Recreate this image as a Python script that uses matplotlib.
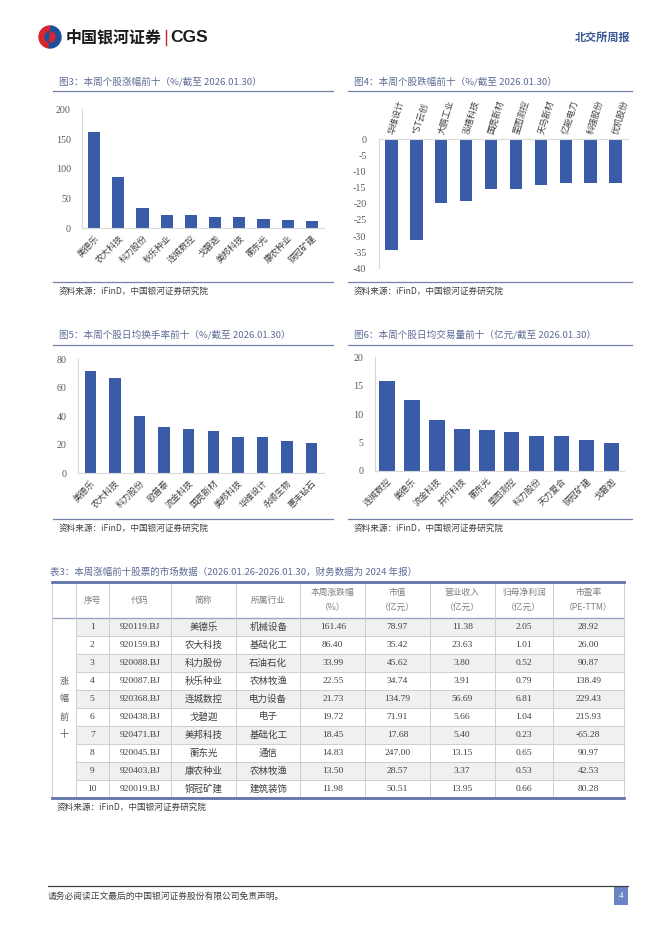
import matplotlib
matplotlib.use("Agg")
import matplotlib.pyplot as plt
from matplotlib.patches import Rectangle, Wedge
import numpy as np

plt.rcParams['font.family'] = ['Noto Sans CJK SC', 'DejaVu Sans']
plt.rcParams['axes.unicode_minus'] = False

# ---------------- data ----------------
cats3 = ['美德乐', '农大科技', '科力股份', '秋乐种业', '连城数控', '戈碧迦', '美邦科技', '蘅东光', '康农种业', '铜冠矿建']
vals3 = [161.46, 86.40, 33.99, 22.55, 21.73, 19.72, 18.45, 14.83, 13.50, 11.98]

cats4 = ['华维设计', '*ST云创', '大鹏工业', '泓禧科技', '国亮新材', '星图测控', '天马新材', '亿能电力', '科强股份', '优机股份']
vals4 = [-34.4, -31.3, -19.8, -19.1, -15.4, -15.4, -14.3, -13.6, -13.6, -13.6]

cats5 = ['美德乐', '农大科技', '科力股份', '欧普泰', '流金科技', '国亮新材', '美邦科技', '华维设计', '永顺生物', '惠丰钻石']
vals5 = [71.8, 66.7, 40.0, 32.3, 30.9, 29.5, 25.3, 25.3, 22.5, 21.1]

cats6 = ['连城数控', '美德乐', '流金科技', '并行科技', '蘅东光', '星图测控', '科力股份', '天力复合', '铜冠矿建', '戈碧迦']
vals6 = [15.9, 12.5, 8.9, 7.35, 7.2, 6.9, 6.2, 6.1, 5.4, 4.8]

tbl_idx = ['1', '2', '3', '4', '5', '6', '7', '8', '9', '10']
tbl_code = ['920119.BJ', '920159.BJ', '920088.BJ', '920087.BJ', '920368.BJ', '920438.BJ', '920471.BJ', '920045.BJ', '920403.BJ', '920019.BJ']
tbl_name = ['美德乐', '农大科技', '科力股份', '秋乐种业', '连城数控', '戈碧迦', '美邦科技', '蘅东光', '康农种业', '铜冠矿建']
tbl_ind = ['机械设备', '基础化工', '石油石化', '农林牧渔', '电力设备', '电子', '基础化工', '通信', '农林牧渔', '建筑装饰']
tbl_chg = ['161.46', '86.40', '33.99', '22.55', '21.73', '19.72', '18.45', '14.83', '13.50', '11.98']
tbl_cap = ['78.97', '35.42', '45.62', '34.74', '134.79', '71.91', '17.68', '247.00', '28.57', '50.51']
tbl_rev = ['11.38', '23.63', '3.80', '3.91', '56.69', '5.66', '5.40', '13.15', '3.37', '13.95']
tbl_np = ['2.05', '1.01', '0.52', '0.79', '6.81', '1.04', '0.23', '0.65', '0.53', '0.66']
tbl_pe = ['28.92', '26.00', '90.87', '138.49', '229.43', '215.93', '-65.28', '90.97', '42.53', '80.28']
tbl_head = ['序号', '代码', '简称', '所属行业', '本周涨跌幅\n（%）', '市值\n（亿元）', '营业收入\n（亿元）', '归母净利润\n（亿元）', '市盈率\n（PE-TTM）']

# ---------------- styling ----------------
W, H = 662, 936
BAR = '#3a5ca8'
TITLE_C = '#5d6b96'
LINE_C = '#7581aa'
AX_C = '#d9d9d9'
TICK_C = '#595959'
SERIF = 'Liberation Serif'

fig = plt.figure(figsize=(W / 100, H / 100), dpi=100)
fig.patch.set_facecolor('white')

ov = fig.add_axes([0, 0, 1, 1])
ov.set_xlim(0, W)
ov.set_ylim(H, 0)
ov.axis('off')


def px_axes(x0, x1, ytop, ybot):
    return fig.add_axes([x0 / W, 1 - ybot / H, (x1 - x0) / W, (ybot - ytop) / H])


def style_ax(ax, top=False):
    for s in ax.spines.values():
        s.set_visible(False)
    ax.spines['left'].set_visible(True)
    ax.spines['left'].set_color(AX_C)
    ax.spines['left'].set_linewidth(0.8)
    key = 'top' if top else 'bottom'
    ax.spines[key].set_visible(True)
    ax.spines[key].set_color(AX_C)
    ax.spines[key].set_linewidth(0.8)
    ax.spines[key].set_zorder(5)
    ax.tick_params(length=0)
    ax.patch.set_alpha(0)
    for lab in ax.get_yticklabels():
        lab.set_fontfamily(SERIF)
        lab.set_fontsize(7.2)
        lab.set_color(TICK_C)


def block(x0, x1, ytitle, yline, ybot, ysrc, title):
    ov.text(x0 + 6, ytitle, title, fontsize=6.9, color=TITLE_C, va='center', ha='left')
    ov.plot([x0, x1], [yline, yline], color=LINE_C, lw=0.9)
    ov.plot([x0, x1], [ybot, ybot], color=LINE_C, lw=0.9)
    ov.text(x0 + 6, ysrc, '资料来源：iFinD，中国银河证券研究院', fontsize=6.2, color='#404040',
            va='center', ha='left', style='italic')


# ---------------- header ----------------
ov.add_patch(Wedge((50, 37), 11, 95, 275, width=6, color='#d7262e'))
ov.add_patch(Wedge((50, 37), 11, -85, 95, width=6, color='#1f4e9c'))
ov.add_patch(Wedge((50, 37), 5, 95, 275, color='#1f4e9c'))
ov.add_patch(Wedge((50, 37), 5, -85, 95, color='#d7262e'))
ov.text(66, 37, '中国银河证券', fontsize=11.5, fontweight='bold', color='#1a1a1a', va='center', ha='left')
ov.plot([166, 166], [30, 45], color='#c0272d', lw=1.0)
ov.text(170, 37.5, 'CGS', fontsize=12.5, fontweight='bold', color='#1a1a1a', va='center', ha='left',
        family=['Liberation Sans', 'DejaVu Sans'])
ov.text(630, 37, '北交所周报', fontsize=8, fontweight='bold', color='#3c5694', va='center', ha='right')

# ---------------- chart blocks ----------------
block(53, 333, 81.5, 90.5, 281.5, 291, '图3：本周个股涨幅前十（%/截至 2026.01.30）')
block(348, 632, 81.5, 90.5, 281.5, 291, '图4：本周个股跌幅前十（%/截至 2026.01.30）')
block(53, 333, 335, 345, 519, 528, '图5：本周个股日均换手率前十（%/截至 2026.01.30）')
block(348, 632, 335, 345, 519, 528, '图6：本周个股日均交易量前十（亿元/截至 2026.01.30）')

x = np.arange(10)

# Fig 3
ax3 = px_axes(82, 324, 109.3, 228.3)
ax3.bar(x, vals3, width=0.5, color=BAR, zorder=3)
ax3.set_xlim(-0.5, 9.5)
ax3.set_ylim(0, 200)
ax3.set_yticks([0, 50, 100, 150, 200])
ax3.set_xticks(x)
ax3.set_xticklabels(cats3, rotation=45, ha='right', rotation_mode='anchor', fontsize=6.3, color='#404040')
style_ax(ax3)
ax3.tick_params(axis='y', pad=8)
ax3.tick_params(axis='x', pad=4)

# Fig 4
ax4 = px_axes(379, 628, 139.3, 268.3)
ax4.bar(x, vals4, width=0.5, color=BAR, zorder=3)
ax4.set_xlim(-0.5, 9.5)
ax4.set_ylim(-40, 0)
ax4.set_yticks(list(range(0, -45, -5)))
ax4.xaxis.tick_top()
ax4.set_xticks(x)
ax4.set_xticklabels(cats4, rotation=73, ha='left', va='center', rotation_mode='anchor', fontsize=6.3, color='#404040')
style_ax(ax4, top=True)
ax4.tick_params(axis='y', pad=9)
ax4.tick_params(axis='x', pad=4)

# Fig 5
ax5 = px_axes(78, 324, 359.3, 473.3)
ax5.bar(x, vals5, width=0.47, color=BAR, zorder=3)
ax5.set_xlim(-0.5, 9.5)
ax5.set_ylim(0, 80)
ax5.set_yticks([0, 20, 40, 60, 80])
ax5.set_xticks(x)
ax5.set_xticklabels(cats5, rotation=45, ha='right', rotation_mode='anchor', fontsize=6.3, color='#404040')
style_ax(ax5)
ax5.tick_params(axis='y', pad=8)
ax5.tick_params(axis='x', pad=4)

# Fig 6
ax6 = px_axes(374.5, 624, 357.3, 470.7)
ax6.bar(x, vals6, width=0.62, color=BAR, zorder=3)
ax6.set_xlim(-0.5, 9.5)
ax6.set_ylim(0, 20)
ax6.set_yticks([0, 5, 10, 15, 20])
ax6.set_xticks(x)
ax6.set_xticklabels(cats6, rotation=45, ha='right', rotation_mode='anchor', fontsize=6.3, color='#404040')
style_ax(ax6)
ax6.tick_params(axis='y', pad=8)
ax6.tick_params(axis='x', pad=4)

# ---------------- table ----------------
ov.text(50, 572, '表3：本周涨幅前十股票的市场数据（2026.01.26-2026.01.30，财务数据为 2024 年报）',
        fontsize=6.8, color=TITLE_C, va='center', ha='left')

cols = [52, 76, 108.6, 171.4, 236.1, 300.4, 365.2, 429.5, 495, 552.7, 624]
y_top, y_head, row_h = 582, 618, 18.0
y_bot = y_head + 10 * row_h
GRID = '#c8c8c8'

for i in range(10):
    yy = y_head + i * row_h
    if i % 2 == 0:
        ov.add_patch(Rectangle((cols[1], yy), cols[-1] - cols[1], row_h, color='#f0f0f0', lw=0, zorder=1))
for i in range(1, 10):
    yy = y_head + i * row_h
    ov.plot([cols[1], cols[-1]], [yy, yy], color=GRID, lw=0.6, zorder=2)
ov.plot([cols[0], cols[-1]], [y_head, y_head], color='#9aa5c5', lw=1.0, zorder=2)
for c in cols:
    ov.plot([c, c], [y_top, y_bot], color=GRID, lw=0.6, zorder=2)
ov.plot([cols[0], cols[-1]], [y_top, y_top], color='#5f73a6', lw=2.0, zorder=3)
ov.plot([cols[0], cols[-1]], [y_bot, y_bot], color='#5f73a6', lw=2.0, zorder=3)

for j, h in enumerate(tbl_head):
    cx = (cols[j + 1] + cols[j + 2]) / 2
    ov.text(cx, (y_top + y_head) / 2, h, fontsize=6.3, color='#7f7f7f', ha='center', va='center',
            linespacing=1.9, zorder=4)

for k, ch in enumerate('涨幅前十'):
    ov.text((cols[0] + cols[1]) / 2, y_head + (3 + k + 0.5) * row_h, ch, fontsize=6.5, color='#595959',
            ha='center', va='center', zorder=4)

columns = [tbl_idx, tbl_code, tbl_name, tbl_ind, tbl_chg, tbl_cap, tbl_rev, tbl_np, tbl_pe]
for j, colvals in enumerate(columns):
    cx = (cols[j + 1] + cols[j + 2]) / 2
    for i, v in enumerate(colvals):
        fam = [SERIF, 'Noto Sans CJK SC'] if j not in (2, 3) else ['Noto Sans CJK SC']
        ov.text(cx, y_head + (i + 0.5) * row_h, v, fontsize=6.8, color='#404040', ha='center', va='center',
                family=fam, zorder=4)

ov.text(57, 807, '资料来源：iFinD，中国银河证券研究院', fontsize=6.2, color='#404040', va='center', ha='left')

# ---------------- footer ----------------
ov.plot([48, 628], [886, 886], color='#404040', lw=0.9)
ov.text(48, 896, '请务必阅读正文最后的中国银河证券股份有限公司免责声明。', fontsize=6.3, color='#404040',
        va='center', ha='left')
ov.add_patch(Rectangle((614, 887), 14, 18, color='#6b84c4', lw=0))
ov.text(621, 896, '4', fontsize=6.5, color='white', ha='center', va='center', family=SERIF)

fig.savefig('out.png', dpi=100, facecolor='white')
